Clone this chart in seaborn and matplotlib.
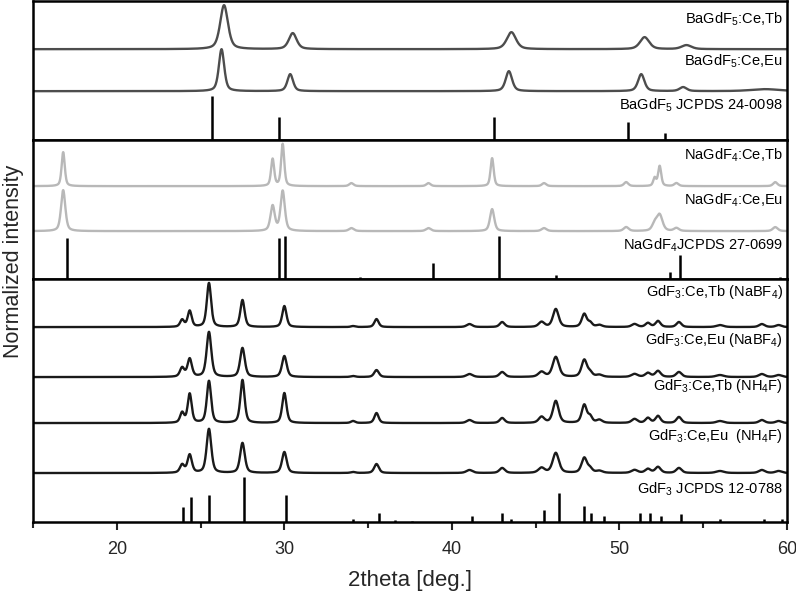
import numpy as np
import pandas as pd
import seaborn as sns
import matplotlib.pyplot as plt
from matplotlib.ticker import MultipleLocator

# Peak lists (2theta position, height in px, FWHM in deg)
# BaGdF5 panel
ba_tb_pos = [26.4, 30.5, 43.55, 51.5, 54.0]
ba_tb_h = [44, 16, 17, 12, 4]
ba_tb_w = [0.55, 0.55, 0.65, 0.65, 0.7]

ba_eu_pos = [26.25, 30.35, 43.4, 51.3, 53.8, 58.7]
ba_eu_h = [42, 17, 20, 17, 4, 2]
ba_eu_w = [0.38, 0.4, 0.45, 0.45, 0.5, 2.0]

ba_ref_pos = [25.7, 29.7, 42.5, 50.5, 52.7]
ba_ref_h = [44, 23, 23, 18, 7]

# NaGdF4 panel
na_pos = [16.8, 29.3, 29.9, 34.0, 38.6, 42.4, 45.5, 50.4, 52.1, 52.4, 53.4, 59.3]
na_tb_h = [34, 27, 42, 3, 3, 28, 3, 4, 8, 20, 3, 4]
na_tb_w = [0.22, 0.22, 0.22, 0.3, 0.3, 0.22, 0.3, 0.3, 0.2, 0.22, 0.3, 0.3]
na_eu_h = [41, 25, 40, 3, 3, 22, 3, 4, 7, 16, 3, 4]
na_eu_w = [0.3, 0.3, 0.3, 0.35, 0.35, 0.3, 0.35, 0.35, 0.35, 0.4, 0.35, 0.35]

na_ref_pos = [17.0, 29.7, 30.05, 34.5, 38.9, 42.8, 46.2, 53.0, 53.6, 59.6]
na_ref_h = [41, 41, 43, 2, 16, 43, 4, 7, 24, 2]

# GdF3 panel
gd_pos = [23.9, 24.35, 25.5, 27.5, 30.0, 34.1, 35.5, 41.05, 43.0, 45.35, 46.2,
          47.9, 48.25, 48.8, 50.9, 51.7, 52.3, 53.55, 56.0, 58.5, 59.5]
gd_tb_nabf4_h = [7, 16, 44, 27, 21, 1, 8, 3, 5, 5, 18, 13, 4, 2, 3, 4, 6, 5, 2, 3, 2]
gd_eu_nabf4_h = [9, 18, 45, 29, 21, 1, 7, 3, 5, 5, 20, 17, 4, 2, 3, 4, 6, 5, 2, 3, 2]
gd_tb_nh4f_h = [10, 29, 42, 43, 30, 2, 10, 3, 5, 6, 22, 18, 6, 3, 4, 5, 7, 6, 2, 3, 2]
gd_eu_nh4f_h = [8, 18, 44, 30, 21, 1, 9, 3, 5, 5, 20, 15, 4, 2, 3, 4, 6, 5, 2, 3, 2]
gd_w = [0.28, 0.28, 0.3, 0.3, 0.3, 0.3, 0.3, 0.4, 0.35, 0.4, 0.4,
        0.35, 0.3, 0.4, 0.4, 0.35, 0.35, 0.35, 0.5, 0.4, 0.4]

gd_ref_pos = [23.95, 24.4, 25.5, 27.6, 30.1, 34.1, 35.65, 36.6, 37.6, 41.2, 43.0, 43.5,
              45.5, 46.4, 47.9, 48.3, 49.1, 51.2, 51.8, 52.5, 53.7, 56.0, 58.6, 59.7]
gd_ref_h = [15, 25, 27, 45, 27, 3, 9, 2, 1, 6, 9, 3, 12, 29, 16, 9, 6, 9, 9, 6, 8, 3, 3, 3]

two_theta = np.linspace(15, 60, 3000)


def pattern(pos, heights, widths, offset, eta=0.5):
    # pseudo-Voigt peaks on a flat baseline
    y = np.full_like(two_theta, float(offset))
    for c, h, w in zip(pos, heights, widths):
        d = (two_theta - c) / (w / 2)
        lor = 1 / (1 + d ** 2)
        gau = np.exp(-np.log(2) * d ** 2)
        y += h * (eta * lor + (1 - eta) * gau)
    return y


sns.set_theme(style='ticks')
plt.rcParams['font.family'] = ['Liberation Sans', 'DejaVu Sans']
plt.rcParams['mathtext.fontset'] = 'custom'
plt.rcParams['mathtext.rm'] = 'Liberation Sans'
plt.rcParams['mathtext.it'] = 'Liberation Sans:italic'
plt.rcParams['mathtext.bf'] = 'Liberation Sans:bold'

fig, axes = plt.subplots(3, 1, figsize=(7.96, 5.97), dpi=100, sharex=True,
                         gridspec_kw={'height_ratios': [139, 139, 243], 'hspace': 0})
fig.subplots_adjust(left=0.0415, right=0.9887, top=0.998, bottom=0.1256)

dark = '#4d4d4d'
light = '#b8b8b8'
black = '#1a1a1a'

panels = [
    {'ylim': 139,
     'traces': [(ba_tb_pos, ba_tb_h, ba_tb_w, 91, dark),
                (ba_eu_pos, ba_eu_h, ba_eu_w, 49, dark)],
     'ref': (ba_ref_pos, ba_ref_h),
     'labels': [('BaGdF$_5$:Ce,Tb', 121), ('BaGdF$_5$:Ce,Eu', 79),
                ('BaGdF$_5$ JCPDS 24-0098', 35)]},
    {'ylim': 139,
     'traces': [(na_pos, na_tb_h, na_tb_w, 93, light),
                (na_pos, na_eu_h, na_eu_w, 48, light)],
     'ref': (na_ref_pos, na_ref_h),
     'labels': [('NaGdF$_4$:Ce,Tb', 124), ('NaGdF$_4$:Ce,Eu', 79),
                ('NaGdF$_4$JCPDS 27-0699', 34)]},
    {'ylim': 243,
     'traces': [(gd_pos, gd_tb_nabf4_h, gd_w, 195, black),
                (gd_pos, gd_eu_nabf4_h, [w * 1.1 for w in gd_w], 145, black),
                (gd_pos, gd_tb_nh4f_h, gd_w, 99, black),
                (gd_pos, gd_eu_nh4f_h, [w * 1.1 for w in gd_w], 49, black)],
     'ref': (gd_ref_pos, gd_ref_h),
     'labels': [('GdF$_3$:Ce,Tb (NaBF$_4$)', 230), ('GdF$_3$:Ce,Eu (NaBF$_4$)', 182),
                ('GdF$_3$:Ce,Tb (NH$_4$F)', 136), ('GdF$_3$:Ce,Eu  (NH$_4$F)', 86),
                ('GdF$_3$ JCPDS 12-0788', 33)]},
]

for ax, p in zip(axes, panels):
    for pos, h, w, off, col in p['traces']:
        df = pd.DataFrame({'2theta': two_theta, 'I': pattern(pos, h, w, off)})
        sns.lineplot(data=df, x='2theta', y='I', ax=ax, color=col, linewidth=1.7,
                     estimator=None)
    ref_pos, ref_h = p['ref']
    ax.vlines(ref_pos, 0, ref_h, color='black', linewidth=1.8)
    for text, y in p['labels']:
        ax.text(59.75, y, text, ha='right', va='center', fontsize=10.5, color='black')
    ax.set_ylim(0, p['ylim'])
    ax.set_xlim(15, 60)
    ax.set_yticks([])
    ax.set_ylabel('')
    for s in ax.spines.values():
        s.set_linewidth(1.8)
        s.set_color('black')
    ax.tick_params(axis='x', which='both', bottom=False, labelbottom=False)

bottom = axes[-1]
bottom.xaxis.set_major_locator(MultipleLocator(10))
bottom.xaxis.set_minor_locator(MultipleLocator(5))
bottom.tick_params(axis='x', which='major', bottom=True, labelbottom=True,
                   direction='out', length=6, width=1.5, labelsize=13, pad=8)
bottom.tick_params(axis='x', which='minor', bottom=True, direction='out',
                   length=4, width=1.5)
bottom.set_xlabel('2theta [deg.]', fontsize=16, labelpad=8)
fig.text(0.017, 0.562, 'Normalized intensity', rotation=90, ha='center', va='center',
         fontsize=15.5)

plt.savefig('out.png', dpi=100)
